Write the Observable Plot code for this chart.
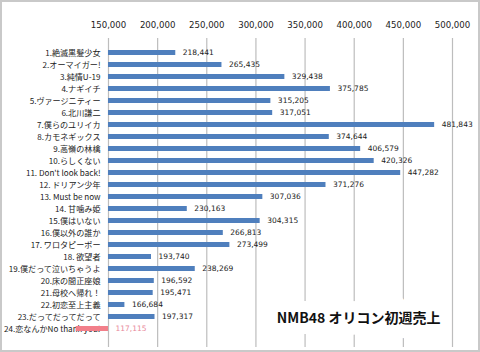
<!DOCTYPE html>
<html>
<head>
<meta charset="utf-8">
<script src="https://cdn.jsdelivr.net/npm/d3@7"></script>
<script src="https://cdn.jsdelivr.net/npm/@observablehq/plot@0.6"></script>
<style>
  html, body { margin: 0; padding: 0; background: #fff; }
  #chart svg { display: block; outline: 2px solid #c9c9c9; outline-offset: -2px; }
</style>
</head>
<body>
<div id="chart"></div>
<script>
const titles = [
  "1.絶滅黒髪少女", "2.オーマイガー!", "3.純情U-19", "4.ナギイチ", "5.ヴァージニティー",
  "6.北川謙二", "7.僕らのユリイカ", "8.カモネギックス", "9.高嶺の林檎", "10.らしくない",
  "11. Don't look back!", "12. ドリアン少年", "13. Must be now", "14. 甘噛み姫", "15.僕はいない",
  "16.僕以外の誰か", "17. ワロタピーポー", "18. 欲望者", "19.僕だって泣いちゃうよ", "20.床の間正座娘",
  "21.母校へ帰れ！", "22.初恋至上主義", "23.だってだってだって", "24.恋なんかNo thank you!"
];
const sales = [
  218441, 265435, 329438, 375785, 315205,
  317051, 481843, 374644, 406579, 420326,
  447282, 371276, 307036, 230163, 304315,
  266813, 273499, 193740, 238269, 196592,
  195471, 166684, 197317, 117115
];
const highlighted = [false, false, false, false, false, false, false, false, false, false, false, false,
  false, false, false, false, false, false, false, false, false, false, false, true];
const xTicks = [150000, 200000, 250000, 300000, 350000, 400000, 450000, 500000];
const baseValue = 150000;
const chartTitle = "NMB48 オリコン初週売上";

const data = titles.map((t, i) => ({title: t, sales: sales[i], hi: highlighted[i]}));
const fmt = d3.format(",");

const plot = Plot.plot({
  width: 480,
  height: 352,
  marginTop: 38,
  marginBottom: 5,
  marginLeft: 108,
  marginRight: 28,
  style: {background: "#fff", overflow: "visible"},
  x: {domain: [150000, 500000], ticks: xTicks},
  y: {domain: titles, range: [33.0, 349.0], padding: 0.55},
  marks: [
    Plot.ruleX(xTicks, {stroke: "#bdbdbd", strokeWidth: 1.2}),
    Plot.axisX({anchor: "top", ticks: xTicks, tickSize: 0, tickPadding: 11, tickFormat: fmt,
      fontSize: 8.6, fontFamily: "DejaVu Sans", fill: "#222", label: null}),
    Plot.axisY({anchor: "left", tickSize: 0, tickPadding: 8, fontSize: 8.1,
      fontFamily: "Noto Sans CJK JP", fill: "#222", label: null}),
    Plot.barX(data, {y: "title", x1: () => baseValue, x2: "sales",
      fill: d => d.hi ? "#f27f8a" : "#4f7fbd", insetTop: 0, insetBottom: 0}),
    Plot.text(data, {y: "title", x: d => Math.max(d.sales, baseValue), text: d => fmt(d.sales),
      dx: 7, textAnchor: "start", fontSize: 7.5, fontFamily: "DejaVu Sans",
      fill: d => d.hi ? "#e8889a" : "#222"}),
    Plot.text([chartTitle], {frameAnchor: "bottom-right", text: d => d, textAnchor: "end",
      lineAnchor: "middle", dx: -12, dy: -29, fontSize: 14, fontWeight: "bold",
      fontFamily: "Noto Sans CJK JP", fill: "#111", stroke: "white", strokeWidth: 22,
      strokeLinejoin: "miter"})
  ]
});
document.getElementById("chart").appendChild(plot);
</script>
</body>
</html>
